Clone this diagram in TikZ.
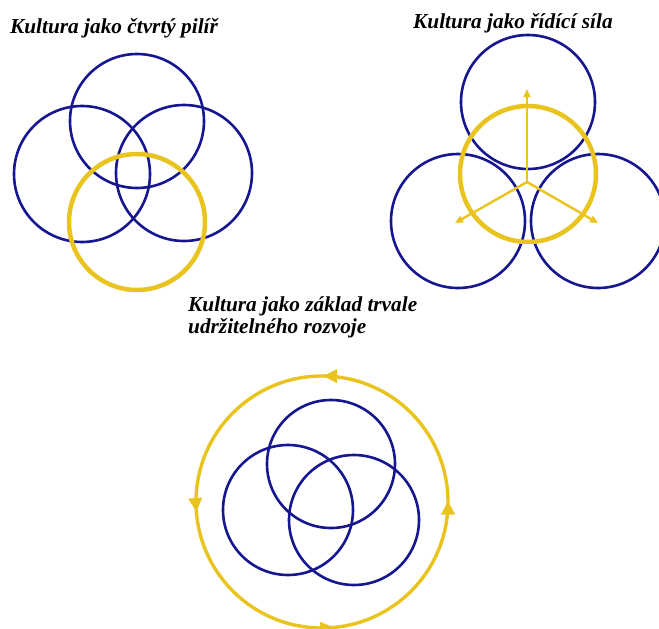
\documentclass[tikz,border=0pt]{standalone}
\usepackage{fontspec}
\setmainfont{Liberation Serif}
\usetikzlibrary{arrows.meta,decorations.markings}
\definecolor{ringblue}{RGB}{22,22,145}
\definecolor{ringgold}{RGB}{234,196,30}
\begin{document}
\begin{tikzpicture}[x=1pt,y=-1pt,
  bluering/.style={draw=ringblue,line width=2.6pt},
  goldring/.style={draw=ringgold,line width=4.5pt},
  titletext/.style={anchor=base west,inner sep=0pt,font=\fontsize{21.3}{22}\selectfont\bfseries\itshape,align=left},
  spoke/.style={draw=ringgold,line width=2.4pt,-{Triangle[length=8pt,width=7pt]}},
  cyclering/.style={draw=ringgold,line width=3.4pt,
    postaction={decorate},
    decoration={markings,
      mark=at position 0.135 with {\arrow[ringgold]{Triangle[length=14pt,width=13pt]}},
      mark=at position 0.382 with {\arrow[ringgold]{Triangle[length=14pt,width=13pt]}},
      mark=at position 0.646 with {\arrow[ringgold]{Triangle[length=14pt,width=13pt]}},
      mark=at position 0.899 with {\arrow[ringgold]{Triangle[length=14pt,width=13pt]}}}}
]
\useasboundingbox (0,0) rectangle (659,629);
\fill[white] (0,0) rectangle (659,629);

% Panel 1
\node[titletext] (t1) at (10,33) {Kultura jako čtvrtý pilíř};
\draw[bluering] (137,121) circle[radius=67];
\draw[bluering] (82,174) circle[radius=68];
\draw[bluering] (184,173) circle[radius=68];
\draw[goldring] (137,222) circle[radius=68];

% Panel 2
\node[titletext] (t2) at (413,28) {Kultura jako řídící síla};
\draw[bluering] (528,102) circle[radius=67];
\draw[bluering] (458,221) circle[radius=67];
\draw[bluering] (598,221) circle[radius=67];
\draw[goldring] (528,174) circle[radius=68];
\coordinate (hub) at (527,182);
\coordinate (tipup) at (527,89);
\coordinate (tipleft) at (455,223);
\coordinate (tipright) at (598,223);
\draw[spoke] (hub) -- (tipup);
\draw[spoke] (hub) -- (tipleft);
\draw[spoke] (hub) -- (tipright);

% Panel 3
\node[titletext] (t3) at (188,333) {Kultura jako základ trvale\\udržitelného rozvoje};
\draw[cyclering] (322,502) ++(48:126) arc[start angle=48,end angle=-312,radius=126];
\draw[bluering] (331,464) circle[radius=64];
\draw[bluering] (288,510) circle[radius=65];
\draw[bluering] (354,520) circle[radius=65];
\end{tikzpicture}
\end{document}
